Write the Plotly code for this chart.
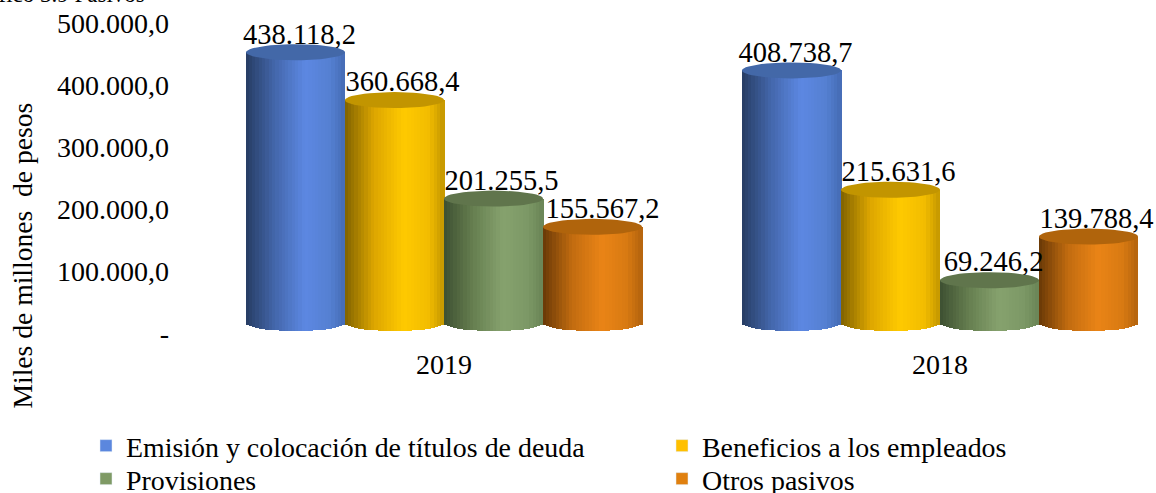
import math
import plotly.graph_objects as go

categories = ["2019", "2018"]
series_names = ["Emisión y colocación de títulos de deuda", "Beneficios a los empleados", "Provisiones", "Otros pasivos"]
emision = [438118.2, 408738.7]
beneficios = [360668.4, 215631.6]
provisiones = [201255.5, 69246.2]
otros = [155567.2, 139788.4]
labels_emision = ["438.118,2", "408.738,7"]
labels_beneficios = ["360.668,4", "215.631,6"]
labels_provisiones = ["201.255,5", "69.246,2"]
labels_otros = ["155.567,2", "139.788,4"]
tick_values = [0, 100000, 200000, 300000, 400000, 500000]
tick_labels = ["-", "100.000,0", "200.000,0", "300.000,0", "400.000,0", "500.000,0"]

values = [emision, beneficios, provisiones, otros]
labels = [labels_emision, labels_beneficios, labels_provisiones, labels_otros]
label_shift_px = [[4, 4], [8, 8], [8, 4], [10, 8]]
legend_colors = ["#5B87DE", "#FFC000", "#7F9A65", "#E0800F"]
top_colors = ["#4368A8", "#C29500", "#60754C", "#B0640C"]
stops = [
    [(0, "#263C62"), (0.3, "#4467AC"), (0.6, "#5C88E2"), (0.85, "#5580D2"), (1, "#456CB5")],
    [(0, "#7F6200"), (0.3, "#DDA600"), (0.6, "#FFCA00"), (0.85, "#F2BC00"), (1, "#C49700")],
    [(0, "#3D4F31"), (0.3, "#667F50"), (0.6, "#86A26E"), (0.85, "#7C9866"), (1, "#6A8556")],
    [(0, "#683806"), (0.3, "#C26C10"), (0.6, "#EA8416"), (0.85, "#D87A12"), (1, "#B4630E")],
]

FONT = "Liberation Serif"
PX_W, PX_H = 1156, 493
L, R, T, B = 170, 0, 10, 153
PX_PER_UNIT_Y = 61.8 / 100000
ZERO_PX = 323
TICK_PX_PER_UNIT = 62 / 100000
TICK_ZERO_PX = 335
CAT_STEP = 496
SER_W = 99 / CAT_STEP
DEPTH = 8 / PX_PER_UNIT_Y
N_SLICES = 30

x0_px = 444
x_range = [(L - x0_px) / CAT_STEP, (PX_W - R - x0_px) / CAT_STEP]
plot_bottom = PX_H - B
y_range = [(ZERO_PX - plot_bottom) / PX_PER_UNIT_Y, (ZERO_PX - T) / PX_PER_UNIT_Y]
tick_range = [(TICK_ZERO_PX - plot_bottom) / TICK_PX_PER_UNIT, (TICK_ZERO_PX - T) / TICK_PX_PER_UNIT]


def mix(u, st):
    for (a, ca), (b, cb) in zip(st, st[1:]):
        if u <= b:
            t = (u - a) / (b - a)
            rgb = [round(int(ca[i:i + 2], 16) * (1 - t) + int(cb[i:i + 2], 16) * t) for i in (1, 3, 5)]
            return "rgb({},{},{})".format(*rgb)
    return st[-1][1]


fig = go.Figure()

for s, vals in enumerate(values):
    offset = (s - 1.5) * SER_W
    xs_center = [i + offset for i in range(len(categories))]
    slice_w = SER_W / N_SLICES
    for k in range(N_SLICES):
        u = (k + 0.5) / N_SLICES
        dx = (u - 0.5) * SER_W
        drop = DEPTH * math.sqrt(max(0, 1 - (2 * u - 1) ** 2))
        fig.add_trace(go.Bar(
            x=[c + dx for c in xs_center],
            y=[v + drop for v in vals],
            base=[-drop] * len(vals),
            width=slice_w * 1.3,
            yaxis="y2",
            marker=dict(color=mix(u, stops[s]), line=dict(width=0)),
            showlegend=False, hoverinfo="skip",
        ))

# value labels sit behind the cylinder lids
for s, vals in enumerate(values):
    offset = (s - 1.5) * SER_W
    fig.add_trace(go.Scatter(
        x=[i + offset + label_shift_px[s][i] / CAT_STEP for i in range(len(categories))],
        y=[v + DEPTH * 0.2 for v in vals],
        yaxis="y2",
        mode="text", text=labels[s], textposition="top center", cliponaxis=False,
        textfont=dict(family=FONT, size=28.5, color="#000000"),
        showlegend=False, hoverinfo="skip",
    ))

for s, vals in enumerate(values):
    offset = (s - 1.5) * SER_W
    ex, ey = [], []
    for i, v in enumerate(vals):
        for j in range(49):
            a = 2 * math.pi * j / 48
            ex.append(i + offset + SER_W / 2 * math.cos(a))
            ey.append(v + DEPTH * math.sin(a))
        ex.append(None)
        ey.append(None)
    fig.add_trace(go.Scatter(
        x=ex, y=ey, yaxis="y2", mode="lines", fill="toself", fillcolor=top_colors[s],
        line=dict(width=0, color=top_colors[s]), showlegend=False, hoverinfo="skip",
    ))

legend_ids = ["legend", "legend2", "legend3", "legend4"]
for s, name in enumerate(series_names):
    fig.add_trace(go.Bar(x=[None], y=[None], name=name, showlegend=True,
                         legend=legend_ids[s], marker=dict(color=legend_colors[s])))

legend_left_px = [86, 662, 86, 662]
legend_mid_px = [446, 446, 479, 479]
legend_layout = {
    lid: dict(xref="container", yref="container",
              x=legend_left_px[i] / PX_W, xanchor="left",
              y=1 - legend_mid_px[i] / PX_H, yanchor="middle",
              font=dict(family=FONT, size=27.9), bgcolor="rgba(0,0,0,0)")
    for i, lid in enumerate(legend_ids)
}

fig.update_layout(
    width=PX_W, height=PX_H, autosize=False,
    margin=dict(l=L, r=R, t=T, b=B, autoexpand=False),
    paper_bgcolor="#FFFFFF", plot_bgcolor="#FFFFFF",
    barmode="overlay", bargap=0,
    font=dict(family=FONT, size=27, color="#000000"),
    xaxis=dict(range=x_range, tickmode="array", tickvals=list(range(len(categories))), ticktext=categories,
               showgrid=False, zeroline=False, showline=False, ticks="", ticklen=0, tickangle=0,
               ticklabelstandoff=5, tickfont=dict(family=FONT, size=28)),
    yaxis=dict(range=tick_range, tickmode="array", tickvals=tick_values, ticktext=tick_labels,
               showgrid=False, zeroline=False, showline=False, ticks="", ticklabeloverflow="allow",
               ticklabelshift=-2, tickfont=dict(family=FONT, size=28)),
    yaxis2=dict(range=y_range, overlaying="y", side="left", showticklabels=False,
                showgrid=False, zeroline=False, showline=False, ticks=""),
    annotations=[
        dict(text="Miles de millones \u00a0de pesos", xref="paper", yref="paper", textangle=-90,
             x=(22 - L) / (PX_W - L - R), y=(plot_bottom - 255.5) / (PX_H - T - B),
             xanchor="center", yanchor="middle", showarrow=False, font=dict(family=FONT, size=27.6)),
        dict(text="Gráfico 3.9 Pasivos", xref="paper", yref="paper",
             x=(147 - L) / (PX_W - L - R), y=(plot_bottom - 9) / (PX_H - T - B),
             xanchor="right", yanchor="bottom", showarrow=False, font=dict(family=FONT, size=23)),
    ],
    **legend_layout,
)

fig.write_html("out.html", post_script="document.body.style.margin='0';",
               config={"displayModeBar": False})
